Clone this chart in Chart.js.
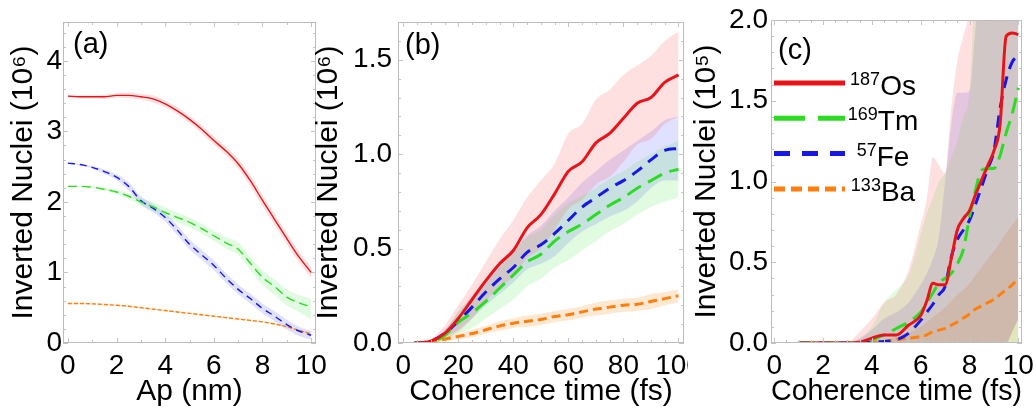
<!DOCTYPE html>
<html lang="en">
<head>
<meta charset="UTF-8">
<title>Inverted nuclei</title>
<script src="https://cdn.jsdelivr.net/npm/chart.js"></script>
<style>
  body { margin: 0; background: #ffffff; }
  canvas { position: absolute; top: 0; }
</style>
</head>
<body>
<canvas id="chartA" width="321" height="412" style="left:9px"></canvas>
<canvas id="chartB" width="374" height="412" style="left:314px"></canvas>
<canvas id="chartC" width="344" height="412" style="left:692px"></canvas>
<script>
// legend / series names
const massNumbers = ['187', '169', '57', '133'];
const elements = ['Os', 'Tm', 'Fe', 'Ba'];

// (a) vs aperture, 10^6
const aX = [0,0.5,1,1.5,2,2.5,3,3.5,4,4.5,5,5.5,6,6.5,7,7.5,8,8.5,9,9.5,10];
const aOs   = [3.50,3.49,3.49,3.49,3.51,3.51,3.49,3.46,3.39,3.29,3.17,3.03,2.87,2.72,2.54,2.30,2.02,1.75,1.48,1.22,1.00];
const aOsHi = [3.52,3.51,3.51,3.52,3.54,3.55,3.53,3.51,3.44,3.34,3.22,3.09,2.93,2.78,2.61,2.38,2.10,1.83,1.56,1.30,1.08];
const aOsLo = [3.48,3.47,3.47,3.46,3.48,3.47,3.45,3.41,3.34,3.24,3.12,2.97,2.81,2.66,2.47,2.22,1.94,1.67,1.40,1.14,0.92];
const aTm   = [2.22,2.22,2.21,2.18,2.14,2.08,2.00,1.93,1.85,1.78,1.71,1.62,1.52,1.42,1.33,1.13,0.93,0.80,0.65,0.57,0.51];
const aTmHi = [2.23,2.23,2.22,2.20,2.17,2.12,2.05,1.99,1.92,1.85,1.78,1.69,1.59,1.50,1.42,1.22,1.03,0.90,0.76,0.68,0.63];
const aTmLo = [2.21,2.21,2.20,2.16,2.11,2.04,1.95,1.87,1.78,1.71,1.64,1.55,1.45,1.34,1.25,1.04,0.83,0.68,0.53,0.44,0.34];
const aFe   = [2.55,2.53,2.49,2.43,2.35,2.22,2.02,1.91,1.78,1.60,1.40,1.25,1.10,0.92,0.76,0.63,0.49,0.38,0.26,0.17,0.11];
const aFeHi = [2.56,2.54,2.51,2.46,2.39,2.28,2.08,1.97,1.84,1.67,1.47,1.32,1.17,0.99,0.83,0.70,0.56,0.45,0.33,0.23,0.17];
const aFeLo = [2.54,2.52,2.47,2.40,2.31,2.16,1.96,1.85,1.72,1.53,1.33,1.18,1.03,0.85,0.69,0.56,0.42,0.31,0.19,0.10,0.05];
const aBa   = [0.56,0.56,0.555,0.545,0.535,0.52,0.50,0.48,0.46,0.44,0.42,0.40,0.38,0.36,0.34,0.32,0.30,0.27,0.23,0.18,0.13];
const aBaHi = [0.57,0.57,0.565,0.555,0.545,0.53,0.51,0.49,0.47,0.45,0.43,0.41,0.39,0.37,0.35,0.33,0.31,0.28,0.24,0.19,0.14];
const aBaLo = [0.55,0.55,0.545,0.535,0.525,0.51,0.49,0.47,0.45,0.43,0.41,0.39,0.37,0.35,0.33,0.31,0.29,0.26,0.22,0.17,0.12];
const aXTicks = [0,2,4,6,8,10];
const aYTicks = [0,1,2,3,4];

// (b) vs coherence time 0-100 fs, 10^6
const bX = [4,10,15,20,25,30,35,40,45,50,55,60,65,70,75,80,85,90,95,100];
const bOs   = [0,0.01,0.05,0.13,0.23,0.33,0.42,0.49,0.61,0.68,0.79,0.91,0.96,1.06,1.11,1.19,1.27,1.30,1.38,1.42];
const bOsHi = [0,0.02,0.09,0.20,0.31,0.43,0.55,0.65,0.77,0.86,0.95,1.11,1.16,1.29,1.34,1.42,1.47,1.52,1.60,1.65];
const bOsLo = [0,0,0.02,0.06,0.13,0.22,0.30,0.35,0.45,0.50,0.60,0.71,0.76,0.84,0.88,0.96,1.05,1.08,1.16,1.20];
const bTm   = [0,0.005,0.04,0.11,0.16,0.22,0.29,0.36,0.43,0.47,0.54,0.59,0.63,0.68,0.73,0.77,0.82,0.86,0.90,0.92];
const bTmHi = [0,0.01,0.06,0.17,0.24,0.31,0.40,0.49,0.56,0.60,0.68,0.74,0.78,0.82,0.87,0.91,0.96,1.00,1.04,1.07];
const bTmLo = [0,0,0.02,0.05,0.08,0.13,0.18,0.23,0.30,0.34,0.40,0.44,0.49,0.54,0.59,0.63,0.68,0.72,0.75,0.77];
const bFe   = [0,0.01,0.05,0.115,0.19,0.27,0.34,0.40,0.48,0.52,0.58,0.65,0.72,0.77,0.82,0.86,0.91,0.97,1.02,1.03];
const bFeHi = [0,0.015,0.07,0.16,0.25,0.34,0.42,0.48,0.57,0.62,0.70,0.77,0.85,0.91,0.97,1.02,1.07,1.12,1.18,1.20];
const bFeLo = [0,0.005,0.03,0.07,0.13,0.20,0.26,0.32,0.39,0.42,0.46,0.53,0.59,0.63,0.67,0.70,0.75,0.82,0.86,0.86];
const bBa   = [0,0.005,0.02,0.035,0.05,0.07,0.09,0.105,0.115,0.125,0.14,0.15,0.165,0.18,0.19,0.20,0.205,0.22,0.235,0.25];
const bBaHi = [0,0.01,0.03,0.05,0.07,0.09,0.115,0.13,0.145,0.155,0.17,0.18,0.195,0.215,0.225,0.235,0.24,0.26,0.27,0.285];
const bBaLo = [0,0,0.01,0.02,0.03,0.05,0.065,0.08,0.085,0.095,0.11,0.12,0.135,0.145,0.155,0.165,0.17,0.18,0.20,0.215];
const bXTicks = [0,20,40,60,80,100];
const bYTicks = [0,0.5,1.0,1.5];

// (c) vs coherence time 0-10 fs, 10^5
const cX = [1,1.5,2,2.5,3,3.5,4,4.5,5,5.5,6,6.25,6.5,6.75,7,7.25,7.5,7.75,8,8.25,8.5,8.75,9,9.25,9.5,9.75,10];
const cOs   = [0,0,0,0,0,0.005,0.03,0.05,0.05,0.11,0.17,0.26,0.37,0.36,0.36,0.52,0.70,0.77,0.82,0.92,1.01,1.10,1.19,1.35,1.90,1.92,1.91];
const cOsHi = [0,0,0,0,0,0.07,0.15,0.25,0.30,0.45,0.73,0.89,1.15,1.10,1.05,1.45,1.75,1.90,2.05,2.3,2.4,2.5,2.5,2.5,2.5,2.5,2.5];
const cOsLo = [0,0,0,0,0,0,0,0,0,0,0,0,0,0,0,0,0,0,0,0,0,0,0,0,0,0.07,0.15];
const cTm   = [0,0,0,0,0,0,0.02,0.05,0.09,0.13,0.19,0.25,0.31,0.37,0.40,0.43,0.49,0.58,0.78,0.95,1.07,1.08,1.08,1.16,1.30,1.42,1.58];
const cTmHi = [0,0,0,0,0,0.02,0.10,0.25,0.33,0.42,0.67,0.80,0.90,1.00,1.05,1.15,1.25,1.40,1.55,2.3,2.5,2.5,2.5,2.5,2.5,2.5,2.5];
const cTmLo = [0,0,0,0,0,0,0,0,0,0,0,0,0,0,0,0,0,0,0,0,0,0,0,0,0,0,0];
const cFe   = [0,0,0,0,0,0,0.005,0.01,0.02,0.06,0.14,0.19,0.24,0.30,0.35,0.53,0.64,0.70,0.76,0.86,0.97,1.08,1.19,1.45,1.63,1.74,1.78];
const cFeHi = [0,0,0,0,0,0.03,0.08,0.15,0.19,0.25,0.36,0.43,0.52,0.66,1.00,1.35,1.55,1.55,1.56,1.95,2.3,2.5,2.5,2.5,2.5,2.5,2.5];
const cFeLo = [0,0,0,0,0,0,0,0,0,0,0,0,0,0,0,0,0,0,0,0,0,0,0,0,0,0.07,0.15];
const cBa   = [0,0,0,0,0,0,0.005,0.01,0.02,0.03,0.04,0.05,0.07,0.08,0.09,0.11,0.13,0.155,0.18,0.21,0.23,0.25,0.27,0.30,0.33,0.36,0.40];
const cBaHi = [0,0,0,0,0,0,0.01,0.02,0.04,0.06,0.10,0.13,0.16,0.19,0.22,0.26,0.30,0.33,0.37,0.42,0.47,0.52,0.57,0.62,0.68,0.73,0.78];
const cBaLo = [0,0,0,0,0,0,0,0,0,0,0,0,0,0,0,0,0,0,0,0,0,0,0,0,0,0,0];
const cXTicks = [0,2,4,6,8,10];
const cYTicks = [0,0.5,1.0,1.5,2.0];

const FONT = '"Liberation Sans", Arial, sans-serif';
const lineColors = ['#e8141a', '#2bdc22', '#1717e6', '#ff7f0e'];
const bandColors = ['rgba(255,60,60,0.16)', 'rgba(60,230,60,0.16)', 'rgba(60,60,255,0.16)', 'rgba(255,140,30,0.2)'];

const pts = (xs, ys) => xs.map((x, i) => ({ x: x, y: ys[i] }));

// frame with inward ticks + panel label
const framePlugin = {
  id: 'frame',
  afterDraw(chart, args, o) {
    const { ctx, chartArea: a } = chart;
    const sx = chart.scales.x, sy = chart.scales.y;
    ctx.save();
    ctx.strokeStyle = '#bcbcbc';
    ctx.lineWidth = 1;
    ctx.strokeRect(a.left + 0.5, a.top + 0.5, a.right - a.left - 1, a.bottom - a.top - 1);

    const marks = (scale, nMinor) => {
      const v = scale.ticks.map(t => t.value);
      const step = v[1] - v[0];
      const out = [];
      for (let k = -1; k <= v.length; k++) {
        for (let j = 0; j < nMinor; j++) {
          const val = v[0] + (k + j / nMinor) * step;
          if (val >= scale.min && val <= scale.max) out.push([val, j === 0]);
        }
      }
      return out;
    };
    ctx.strokeStyle = '#c4c4c4';
    ctx.beginPath();
    marks(sx, o.xMinor).forEach(([val, major]) => {
      const p = Math.round(sx.getPixelForValue(val)) + 0.5, l = major ? 5 : 3;
      ctx.moveTo(p, a.bottom); ctx.lineTo(p, a.bottom - l);
      ctx.moveTo(p, a.top); ctx.lineTo(p, a.top + l);
    });
    marks(sy, o.yMinor).forEach(([val, major]) => {
      const p = Math.round(sy.getPixelForValue(val)) + 0.5, l = major ? 5 : 3;
      ctx.moveTo(a.left, p); ctx.lineTo(a.left + l, p);
      ctx.moveTo(a.right, p); ctx.lineTo(a.right - l, p);
    });
    ctx.stroke();

    ctx.fillStyle = '#000';
    ctx.font = '29px ' + FONT;
    ctx.textBaseline = 'alphabetic';
    ctx.fillText(o.label, a.left + o.labelDx, a.top + o.labelDy);
    ctx.restore();
  }
};

// isotope legend inside panel (c)
const legendPlugin = {
  id: 'isoLegend',
  afterDraw(chart) {
    const { ctx, chartArea: a } = chart;
    const dashes = [[], [31, 13], [16, 12], [11, 6]];
    ctx.save();
    elements.forEach((el, i) => {
      const y = a.top + 63 + i * 35.3;
      ctx.strokeStyle = lineColors[i];
      ctx.lineWidth = 5;
      ctx.setLineDash(dashes[i]);
      ctx.beginPath();
      ctx.moveTo(a.left + 3, y);
      ctx.lineTo(a.left + 74, y);
      ctx.stroke();
      ctx.setLineDash([]);
      ctx.fillStyle = '#000';
      ctx.font = '18px ' + FONT;
      const w1 = ctx.measureText(massNumbers[i]).width;
      ctx.font = '28px ' + FONT;
      const w2 = ctx.measureText(el).width;
      const x0 = a.left + 112 - (w1 + w2) / 2;
      ctx.font = '18px ' + FONT;
      ctx.fillText(massNumbers[i], x0, y + 2);
      ctx.font = '28px ' + FONT;
      ctx.fillText(el, x0 + w1, y + 12);
    });
    ctx.restore();
  }
};

function panel(id, cfg) {
  const datasets = [];
  cfg.series.forEach((s, i) => {
    datasets.push({
      data: pts(cfg.x, s[0]), borderColor: lineColors[i], borderWidth: cfg.lineWidth,
      borderDash: cfg.dashes[i], pointRadius: 0, fill: false, order: 1,
      cubicInterpolationMode: 'monotone'
    });
  });
  cfg.series.forEach((s, i) => {
    const n = datasets.length;
    datasets.push({
      data: pts(cfg.x, s[1]), borderWidth: 0, borderColor: 'transparent', pointRadius: 0,
      backgroundColor: bandColors[i], fill: { target: n + 1 }, order: 2,
      cubicInterpolationMode: 'monotone'
    });
    datasets.push({
      data: pts(cfg.x, s[2]), borderWidth: 0, borderColor: 'transparent', pointRadius: 0,
      fill: false, order: 2, cubicInterpolationMode: 'monotone'
    });
  });

  return new Chart(document.getElementById(id), {
    type: 'line',
    data: { datasets },
    plugins: cfg.legend ? [framePlugin, legendPlugin] : [framePlugin],
    options: {
      responsive: false,
      animation: false,
      layout: { autoPadding: false, padding: { top: cfg.top, right: cfg.right, bottom: 0, left: 0 } },
      plugins: {
        legend: { display: false },
        tooltip: { enabled: false },
        frame: { label: cfg.label, labelDx: cfg.labelDx, labelDy: cfg.labelDy, xMinor: cfg.xMinor, yMinor: cfg.yMinor }
      },
      scales: {
        x: {
          type: 'linear', min: cfg.xMin, max: cfg.xMax,
          grid: { display: false, drawTicks: false },
          border: { display: false },
          afterBuildTicks: s => { s.ticks = cfg.xTicks.map(v => ({ value: v })); },
          afterFit: s => { s.height = 69; s.paddingLeft = 0; s.paddingRight = 0; },
          ticks: { font: { family: FONT, size: 28 }, color: '#000', padding: 6, maxRotation: 0, autoSkip: false,
                   callback: v => String(v) },
          title: { display: true, text: cfg.xTitle, font: { family: FONT, size: 30, lineHeight: 1 }, color: '#000',
                   padding: { top: 0, bottom: 5 } }
        },
        y: {
          type: 'linear', min: 0, max: cfg.yMax,
          grid: { display: false, drawTicks: false },
          border: { display: false },
          afterBuildTicks: s => { s.ticks = cfg.yTicks.map(v => ({ value: v })); },
          afterFit: s => { s.width = cfg.yWidth; s.paddingTop = 0; s.paddingBottom = 0; },
          ticks: { font: { family: FONT, size: 28 }, color: '#000', padding: cfg.yPad, autoSkip: false,
                   callback: v => cfg.yDecimals ? v.toFixed(1) : String(v) },
          title: { display: true, text: cfg.yTitle, font: { family: FONT, size: 30, lineHeight: 1 }, color: '#000',
                   padding: { top: 0, bottom: 0 } }
        }
      }
    }
  });
}

panel('chartA', {
  x: aX,
  series: [[aOs, aOsHi, aOsLo], [aTm, aTmHi, aTmLo], [aFe, aFeHi, aFeLo], [aBa, aBaHi, aBaLo]],
  lineWidth: 1.4, dashes: [[], [9, 5], [7, 5], [4, 2]],
  xMin: -0.2, xMax: 10.2, yMax: 4.55, xTicks: aXTicks, yTicks: aYTicks, yDecimals: false,
  xTitle: 'Ap (nm)', yTitle: 'Inverted Nuclei (10\u2076)',
  top: 22, right: 14, yWidth: 54, yPad: 1,
  label: '(a)', labelDx: 10, labelDy: 31, xMinor: 2, yMinor: 5
});

panel('chartB', {
  x: bX,
  series: [[bOs, bOsHi, bOsLo], [bTm, bTmHi, bTmLo], [bFe, bFeHi, bFeLo], [bBa, bBaHi, bBaLo]],
  lineWidth: 3, dashes: [[], [16, 8], [12, 8], [9, 5]],
  xMin: -1.9, xMax: 102, yMax: 1.7, xTicks: bXTicks, yTicks: bYTicks, yDecimals: true,
  xTitle: 'Coherence time (fs)', yTitle: 'Inverted Nuclei (10\u2076)',
  top: 22, right: 4, yWidth: 84, yPad: 6,
  label: '(b)', labelDx: 7, labelDy: 32, xMinor: 4, yMinor: 5
});

panel('chartC', {
  x: cX,
  series: [[cOs, cOsHi, cOsLo], [cTm, cTmHi, cTmLo], [cFe, cFeHi, cFeLo], [cBa, cBaHi, cBaLo]],
  lineWidth: 3, dashes: [[], [16, 8], [12, 8], [9, 5]],
  xMin: -0.13, xMax: 10.15, yMax: 2.0, xTicks: cXTicks, yTicks: cYTicks, yDecimals: true,
  xTitle: 'Coherence time (fs)', yTitle: 'Inverted Nuclei (10\u2075)',
  top: 20, right: 14, yWidth: 79, yPad: 3,
  label: '(c)', labelDx: 7, labelDy: 39, xMinor: 4, yMinor: 5, legend: true
});
</script>
</body>
</html>
